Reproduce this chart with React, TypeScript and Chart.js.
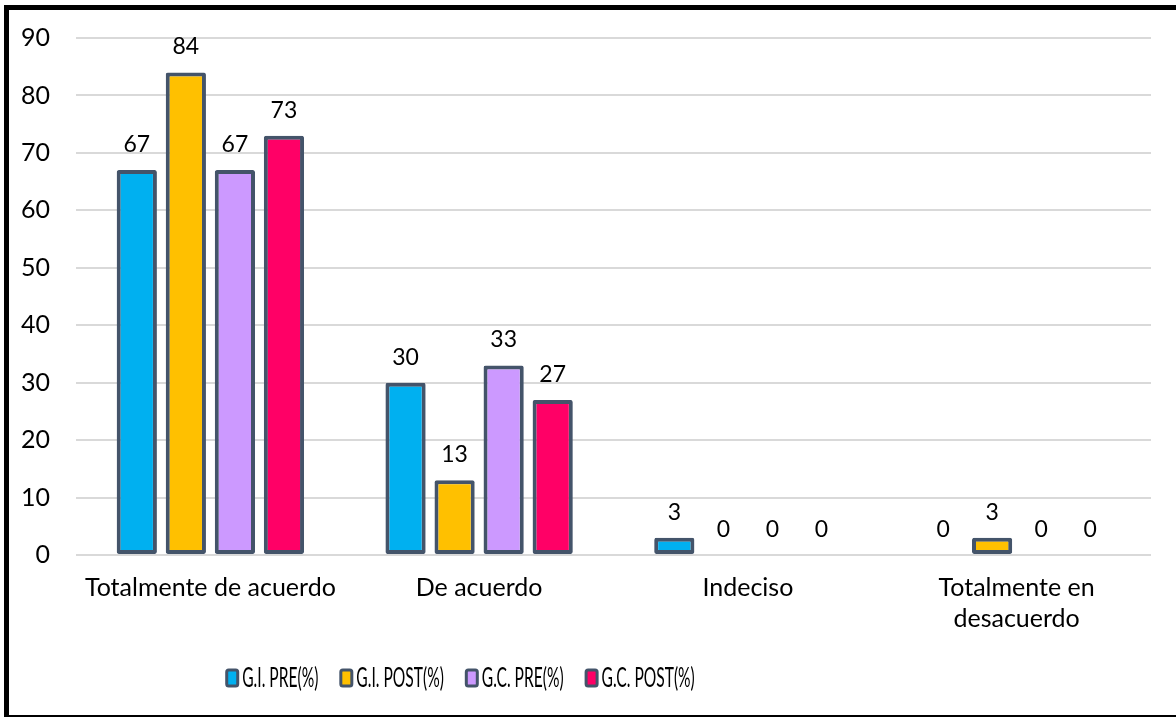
import { useEffect, useRef } from 'react';
import { Chart, registerables } from 'chart.js';

Chart.register(...registerables);

// Survey answers by group, in percent
const categoryLines: string[][] = [
  ['Totalmente de acuerdo'],
  ['De acuerdo'],
  ['Indeciso'],
  ['Totalmente en', 'desacuerdo'],
];
const seriesNames = ['G.I. PRE(%)', 'G.I. POST(%)', 'G.C. PRE(%)', 'G.C. POST(%)'];
const giPre = [67, 30, 3, 0];
const giPost = [84, 13, 0, 3];
const gcPre = [67, 33, 0, 0];
const gcPost = [73, 27, 0, 0];
const yMin = 0;
const yMax = 90;
const yStep = 10;

const seriesColors = ['#00B0F0', '#FFC000', '#CC99FF', '#FF0066'];
const EDGE = '#44546A';
const FONT = 'Lato, "Noto Sans", sans-serif';

// Value printed above every bar, zeros included
const valueLabels = {
  id: 'valueLabels',
  afterDatasetsDraw(chart: any) {
    const ctx = chart.ctx;
    ctx.save();
    ctx.font = `23px ${FONT}`;
    ctx.fillStyle = '#000';
    ctx.textAlign = 'center';
    ctx.textBaseline = 'alphabetic';
    chart.data.datasets.forEach((ds: any, i: number) => {
      const meta = chart.getDatasetMeta(i);
      meta.data.forEach((bar: any, j: number) => {
        ctx.fillText(String(ds.data[j]), bar.x, bar.y - 18);
      });
    });
    ctx.restore();
  },
};

// Compact legend row under the axis
const squeezedLegend = {
  id: 'squeezedLegend',
  afterDraw(chart: any) {
    const ctx = chart.ctx;
    const sx = 0.6;
    const boxW = 14;
    const boxH = 19;
    const gapBox = 3;
    const gapItem = 21;
    const cy = 678;
    ctx.save();
    ctx.font = `26px ${FONT}`;
    const items = chart.data.datasets.map((ds: any) => ({
      label: ds.label as string,
      fill: ds.backgroundColor as string,
      w: ctx.measureText(ds.label).width * sx,
    }));
    const total =
      items.reduce((s: number, it: any) => s + boxW + gapBox + it.w, 0) + gapItem * (items.length - 1);
    let x = 460 - total / 2;
    items.forEach((it: any) => {
      ctx.beginPath();
      ctx.roundRect(x + 1.5, cy - boxH / 2 + 1.5, boxW - 3, boxH - 3, 2);
      ctx.fillStyle = it.fill;
      ctx.fill();
      ctx.lineWidth = 3;
      ctx.strokeStyle = EDGE;
      ctx.stroke();
      x += boxW + gapBox;
      ctx.save();
      ctx.translate(x, cy);
      ctx.scale(sx, 1);
      ctx.fillStyle = '#000';
      ctx.textBaseline = 'middle';
      ctx.fillText(it.label, 0, 1);
      ctx.restore();
      x += it.w + gapItem;
    });
    ctx.restore();
  },
};

export default function App() {
  const canvasRef = useRef<HTMLCanvasElement>(null);

  useEffect(() => {
    const canvas = canvasRef.current;
    if (!canvas) return;
    const values = [giPre, giPost, gcPre, gcPost];
    const chart = new Chart(canvas, {
      type: 'bar',
      data: {
        labels: categoryLines,
        datasets: values.map((data, i) => ({
          label: seriesNames[i],
          data,
          backgroundColor: seriesColors[i],
          borderColor: EDGE,
          borderWidth: 4,
          borderRadius: 2,
          borderSkipped: false,
          barPercentage: 0.82,
          categoryPercentage: 0.73,
        })),
      },
      options: {
        animation: false,
        responsive: false,
        maintainAspectRatio: false,
        layout: { padding: { left: 0, right: 25, top: 38, bottom: 0 } },
        plugins: {
          legend: { display: false },
          tooltip: { enabled: false },
        },
        scales: {
          x: {
            grid: { display: false, drawTicks: false },
            border: { display: false },
            ticks: {
              color: '#000',
              font: { family: FONT, size: 25, lineHeight: 1.24 },
              padding: 17,
              maxRotation: 0,
              autoSkip: false,
            },
            afterFit: (s: any) => {
              s.height = 162;
            },
          },
          y: {
            min: yMin,
            max: yMax,
            grid: { color: '#D9D9D9', lineWidth: 2, drawTicks: false },
            border: { display: false },
            ticks: {
              stepSize: yStep,
              color: '#000',
              font: { family: FONT, size: 25 },
              padding: 26,
            },
            afterFit: (s: any) => {
              s.width = 76;
              s.paddingTop = 0;
              s.paddingBottom = 0;
            },
          },
        },
      },
      plugins: [valueLabels, squeezedLegend],
    });
    return () => chart.destroy();
  }, []);

  return (
    <div style={{ position: 'absolute', left: 0, top: 0, width: 1176, height: 717, background: '#fff', overflow: 'hidden' }}>
      <canvas ref={canvasRef} width={1176} height={717} style={{ display: 'block' }} />
      <div
        style={{
          position: 'absolute',
          left: 4,
          top: 5,
          width: 1200,
          height: 712,
          boxSizing: 'border-box',
          borderLeft: '5px solid #000',
          borderTop: '5px solid #000',
          borderBottom: '2px solid #000',
          pointerEvents: 'none',
        }}
      />
    </div>
  );
}
